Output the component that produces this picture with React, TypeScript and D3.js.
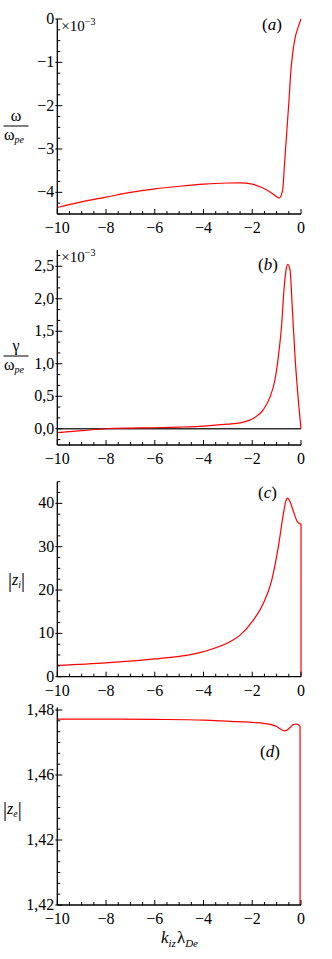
import React from 'react';
import * as d3 from 'd3';

// ---------- data ----------
const xTickValues = [-10, -8, -6, -4, -2, 0];
const xTickLabels = ['−10', '−8', '−6', '−4', '−2', '0'];

// (a) omega / omega_pe  (×10^-3)
const omegaK = [-10, -9, -8, -7, -6, -5, -4, -3, -2.5, -2, -1.68, -1.27, -1.0, -0.889, -0.752, -0.684, -0.588, -0.492, -0.424, -0.342, -0.246, -0.109, 0];
const omegaVal = [-4.35, -4.22, -4.11, -4.0, -3.92, -3.86, -3.81, -3.785, -3.78, -3.81, -3.87, -3.99, -4.10, -4.131, -3.946, -3.408, -2.638, -1.869, -1.254, -0.792, -0.446, -0.177, 0];
const omegaTicks = [0, -1, -2, -3, -4];
const omegaTickLabels = ['0', '−1', '−2', '−3', '−4'];

// (b) gamma / omega_pe  (×10^-3)
const gammaK = [-10, -9, -8, -7, -6, -5, -4, -3, -2.5, -1.95, -1.55, -1.27, -1.07, -0.93, -0.79, -0.70, -0.615, -0.545, -0.45, -0.36, -0.245, -0.11, 0];
const gammaVal = [-0.06, -0.03, 0.0, 0.01, 0.015, 0.025, 0.04, 0.07, 0.09, 0.16, 0.29, 0.49, 0.75, 1.11, 1.62, 2.13, 2.44, 2.53, 2.44, 1.88, 1.11, 0.44, 0];
const gammaTicks = [0, 0.5, 1, 1.5, 2, 2.5];
const gammaTickLabels = ['0,0', '0,5', '1,0', '1,5', '2,0', '2,5'];

// (c) |z_i|
const ziK = [-10, -8, -6, -4, -2.9, -2.5, -1.95, -1.55, -1.2, -0.93, -0.72, -0.63, -0.545, -0.45, -0.31, -0.15, 0];
const ziVal = [2.6, 3.2, 4.1, 5.8, 8.1, 9.6, 13.1, 16.9, 22.3, 30, 37.7, 40.4, 41.2, 40.4, 38.1, 35.8, 35.2];
const ziDrop = 0;
const ziTicks = [0, 10, 20, 30, 40];
const ziTickLabels = ['0', '10', '20', '30', '40'];

// (d) |z_e|
const zeK = [-10, -8, -6, -4, -2.9, -2, -1.54, -1.0, -0.86, -0.66, -0.45, -0.32, -0.18, -0.07, -0.04];
const zeVal = [1.4772, 1.4772, 1.4771, 1.4769, 1.4765, 1.4762, 1.4759, 1.4749, 1.4742, 1.4736, 1.4746, 1.4755, 1.4757, 1.4752, 1.4750];
const zeDrop = 1.42;
const zeTicks = [1.48, 1.46, 1.44, 1.42];
const zeTickLabels = ['1,48', '1,46', '1,42', '1,42'];

// ---------- layout ----------
const W = 332;
const H = 959;
const FONT = 'Liberation Serif';
const RED = '#ff0000';

const x = d3.scaleLinear().domain([-10, 0]).range([57.3, 301]);

type PanelCfg = {
  key: string;
  domain: [number, number];
  range: [number, number];
  ticks: number[];
  labels: string[];
  minorDiv: number;
  xs: number[];
  ys: number[];
  drop?: number;
  letter: string;
  letterPos: [number, number];
  multiplier?: boolean;
  zeroLine?: boolean;
};

const panels: PanelCfg[] = [
  { key: 'a', domain: [-4.5, 0], range: [214, 19], ticks: omegaTicks, labels: omegaTickLabels, minorDiv: 4, xs: omegaK, ys: omegaVal, letter: 'a', letterPos: [262, 30], multiplier: true },
  { key: 'b', domain: [-0.25, 2.75], range: [445, 250], ticks: gammaTicks, labels: gammaTickLabels, minorDiv: 3, xs: gammaK, ys: gammaVal, letter: 'b', letterPos: [258, 270], multiplier: true, zeroLine: true },
  { key: 'c', domain: [0, 45], range: [676.7, 481.7], ticks: ziTicks, labels: ziTickLabels, minorDiv: 4, xs: ziK, ys: ziVal, drop: ziDrop, letter: 'c', letterPos: [258, 498] },
  { key: 'd', domain: [1.42, 1.4808], range: [905, 707.4], ticks: zeTicks, labels: zeTickLabels, minorDiv: 6, xs: zeK, ys: zeVal, drop: zeDrop, letter: 'd', letterPos: [260, 757] },
];

function minorTicks(ticks: number[], div: number, domain: [number, number]) {
  const sorted = [...ticks].sort((a, b) => a - b);
  const step = (sorted[1] - sorted[0]) / div;
  const lo = Math.min(domain[0], domain[1]);
  const hi = Math.max(domain[0], domain[1]);
  const out: number[] = [];
  const start = sorted[0] - Math.floor((sorted[0] - lo) / step + 1e-9) * step;
  for (let v = start; v <= hi + 1e-9; v += step) {
    if (!sorted.some((t) => Math.abs(t - v) < step * 0.01)) out.push(v);
  }
  return out;
}

const xMinor = d3.range(-10, 0.001, 0.5).filter((v) => !xTickValues.includes(v));

function Panel({ p }: { p: PanelCfg }) {
  const y = d3.scaleLinear().domain(p.domain).range(p.range);
  const bottom = p.range[0];
  const top = p.range[1];
  const pts: [number, number][] = p.xs.map((k, i) => [k, p.ys[i]]);
  const line = d3
    .line<[number, number]>()
    .x((d) => x(d[0]))
    .y((d) => y(d[1]))
    .curve(d3.curveMonotoneX);
  let path = line(pts) || '';
  if (p.drop !== undefined) {
    const last = pts[pts.length - 1];
    path += `L${x(last[0])},${y(p.drop)}`;
  }
  const yMinor = minorTicks(p.ticks, p.minorDiv, p.domain);
  const x0 = x(-10);
  return (
    <g>
      {p.zeroLine && (
        <line x1={x(-10)} x2={x(0)} y1={y(0)} y2={y(0)} stroke="#333" strokeWidth={1.6} />
      )}
      <path d={path} fill="none" stroke={RED} strokeWidth={1.2} />
      <line x1={x0} x2={x0} y1={top} y2={bottom} stroke="#000" strokeWidth={1.3} />
      <line x1={x0} x2={x(0)} y1={bottom} y2={bottom} stroke="#000" strokeWidth={1.3} />
      {xTickValues.map((v, i) => (
        <g key={'xt' + i}>
          <line x1={x(v)} x2={x(v)} y1={bottom} y2={bottom - 5} stroke="#000" strokeWidth={1} />
          <text x={x(v)} y={bottom + 19} textAnchor="middle" fontSize={16} style={{ fontFamily: FONT }}>
            {xTickLabels[i]}
          </text>
        </g>
      ))}
      {xMinor.map((v, i) => (
        <line key={'xm' + i} x1={x(v)} x2={x(v)} y1={bottom} y2={bottom - 3} stroke="#000" strokeWidth={1} />
      ))}
      {p.ticks.map((v, i) => (
        <g key={'yt' + i}>
          <line x1={x0 - 2} x2={x0 + 5} y1={y(v)} y2={y(v)} stroke="#000" strokeWidth={1} />
          <text x={x0 - 3} y={y(v) + 5} textAnchor="end" fontSize={16} style={{ fontFamily: FONT }}>
            {p.labels[i]}
          </text>
        </g>
      ))}
      {yMinor.map((v, i) => (
        <line key={'ym' + i} x1={x0} x2={x0 + 3} y1={y(v)} y2={y(v)} stroke="#000" strokeWidth={1} />
      ))}
      {p.multiplier && (
        <text x={x0 + 4} y={top + 12} fontSize={15} style={{ fontFamily: FONT }}>
          ×10
          <tspan fontSize={10} dy={-6}>−3</tspan>
        </text>
      )}
      <text x={p.letterPos[0]} y={p.letterPos[1]} fontSize={17} style={{ fontFamily: FONT }}>
        (<tspan fontStyle="italic">{p.letter}</tspan>)
      </text>
    </g>
  );
}

function Fraction({ num, cx, lineY }: { num: string; cx: number; lineY: number }) {
  return (
    <g style={{ fontFamily: FONT }}>
      <text x={cx} y={lineY - 5} textAnchor="middle" fontSize={16}>
        {num}
      </text>
      <line x1={cx - 12.5} x2={cx + 12.5} y1={lineY} y2={lineY} stroke="#000" strokeWidth={1} />
      <text x={cx - 12} y={lineY + 14} fontSize={16}>
        ω<tspan fontSize={10} fontStyle="italic" dy={3}>pe</tspan>
      </text>
    </g>
  );
}

export default function App() {
  return (
    <svg width={W} height={H} viewBox={`0 0 ${W} ${H}`} style={{ position: 'absolute', left: 0, top: 0, background: '#fff' }}>
      <rect width={W} height={H} fill="#fff" />
      {panels.map((p) => (
        <Panel key={p.key} p={p} />
      ))}
      <Fraction num="ω" cx={16} lineY={126} />
      <Fraction num="γ" cx={16} lineY={356} />
      <text x={8} y={585} fontSize={16} style={{ fontFamily: FONT }}>
        <tspan fontSize={20} dy={2}>|</tspan>
        <tspan fontStyle="italic" dy={-2}>z</tspan>
        <tspan fontStyle="italic" fontSize={10} dy={3}>i</tspan>
        <tspan fontSize={20} dy={-1}>|</tspan>
      </text>
      <text x={3} y={814} fontSize={16} style={{ fontFamily: FONT }}>
        <tspan fontSize={20} dy={2}>|</tspan>
        <tspan fontStyle="italic" dy={-2}>z</tspan>
        <tspan fontStyle="italic" fontSize={10} dy={3}>e</tspan>
        <tspan fontSize={20} dy={-1}>|</tspan>
      </text>
      <text x={161} y={943} fontSize={17} style={{ fontFamily: FONT }}>
        <tspan fontStyle="italic">k</tspan>
        <tspan fontStyle="italic" fontSize={11} dy={4}>iz</tspan>
        <tspan dy={-4} dx={1}>λ</tspan>
        <tspan fontStyle="italic" fontSize={11} dy={4}>De</tspan>
      </text>
    </svg>
  );
}
